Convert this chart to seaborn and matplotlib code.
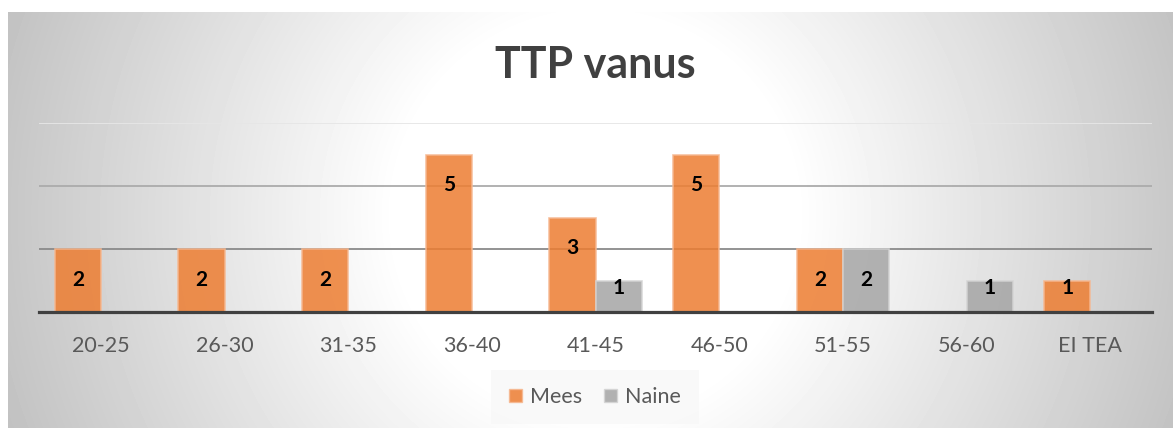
import numpy as np
import pandas as pd
import matplotlib.pyplot as plt
import seaborn as sns
from matplotlib.patches import Patch

# andmed
vanus = ['20-25', '26-30', '31-35', '36-40', '41-45', '46-50', '51-55', '56-60', 'EI TEA']
mees = [2, 2, 2, 5, 3, 5, 2, 0, 1]
naine = [0, 0, 0, 0, 1, 0, 2, 1, 0]
sugu = ['Mees', 'Naine']
varvid = ['#ED7D31', '#A5A5A5']
servad = ['#F6B891', '#D4D4D4']

df = pd.DataFrame({
    'vanus': vanus * 2,
    'arv': mees + naine,
    'sugu': ['Mees'] * len(vanus) + ['Naine'] * len(vanus),
})
df = df[df['arv'] > 0]

sns.set_style('white')
plt.rcParams['font.family'] = ['Lato', 'DejaVu Sans']

W, H = 1173, 428
fig = plt.figure(figsize=(W / 100, H / 100), dpi=100)
fig.patch.set_facecolor('white')

# radiaalne taust (nagu Exceli diagrammiala)
bg = fig.add_axes([8 / W, 0, 1 - 8 / W, 1 - 12 / H])
yy, xx = np.mgrid[12:H, 8:W]
r = np.hypot(xx - 595, yy - 215)
shade = np.clip(255 - 0.145 * np.clip(r - 200, 0, None), 190, 255) / 255
bg.imshow(shade, cmap='gray', vmin=0, vmax=1, aspect='auto', interpolation='bilinear')
bg.axis('off')

ax = fig.add_axes([39 / W, 1 - 312 / H, (1152 - 39) / W, (312 - 123) / H])
ax.patch.set_alpha(0)

sns.barplot(data=df, x='vanus', y='arv', hue='sugu', order=vanus, hue_order=sugu,
            palette=varvid, saturation=1, width=0.744, alpha=0.85, linewidth=1.2,
            errorbar=None, legend=False, ax=ax)

for cont, ec in zip(ax.containers, servad):
    for bar in cont:
        bar.set_edgecolor(ec)
        h = bar.get_height()
        if np.isnan(h) or h <= 0:
            continue
        ty = h - 0.97 if h > 1 else h * 0.75
        ax.text(bar.get_x() + bar.get_width() / 2, ty, f'{int(h)}',
                ha='center', va='center', fontsize=15, fontweight='bold', color='black')

ax.set_ylim(0, 6)
ax.set_xlim(-0.5, len(vanus) - 0.5)
ax.set_yticks([0, 2, 4, 6])
ax.set_yticklabels([])
ax.set_axisbelow(True)
ax.yaxis.grid(True, linewidth=1.3)
for gl, c in zip(ax.get_ygridlines(), ['#404040', '#8a8a8a', '#ababab', '#e6e6e6']):
    gl.set_color(c)
ax.set_xlabel('')
ax.set_ylabel('')
ax.tick_params(axis='x', length=0, pad=17, labelsize=15.5, labelcolor='#595959')
ax.tick_params(axis='y', length=0)
for s in ['top', 'right', 'left']:
    ax.spines[s].set_visible(False)
ax.spines['bottom'].set_color('#404040')
ax.spines['bottom'].set_linewidth(2.3)

fig.text(595 / W, 1 - 65 / H, 'TTP vanus', ha='center', va='center',
         fontsize=31, fontweight='bold', color='#404040')

handles = [Patch(facecolor=c, edgecolor=e, alpha=0.85) for c, e in zip(varvid, servad)]
leg = fig.legend(handles, sugu, loc='center', bbox_to_anchor=(595 / W, 1 - 397 / H),
                 ncol=2, fontsize=15.5, frameon=True, handlelength=0.6, handleheight=0.6,
                 handletextpad=0.4, columnspacing=1.0, borderpad=0.5)
leg.get_frame().set_facecolor('#f8f8f8')
leg.get_frame().set_edgecolor('none')
leg.get_frame().set_boxstyle('square')
for t in leg.get_texts():
    t.set_color('#595959')

fig.savefig('out.png', dpi=100)
